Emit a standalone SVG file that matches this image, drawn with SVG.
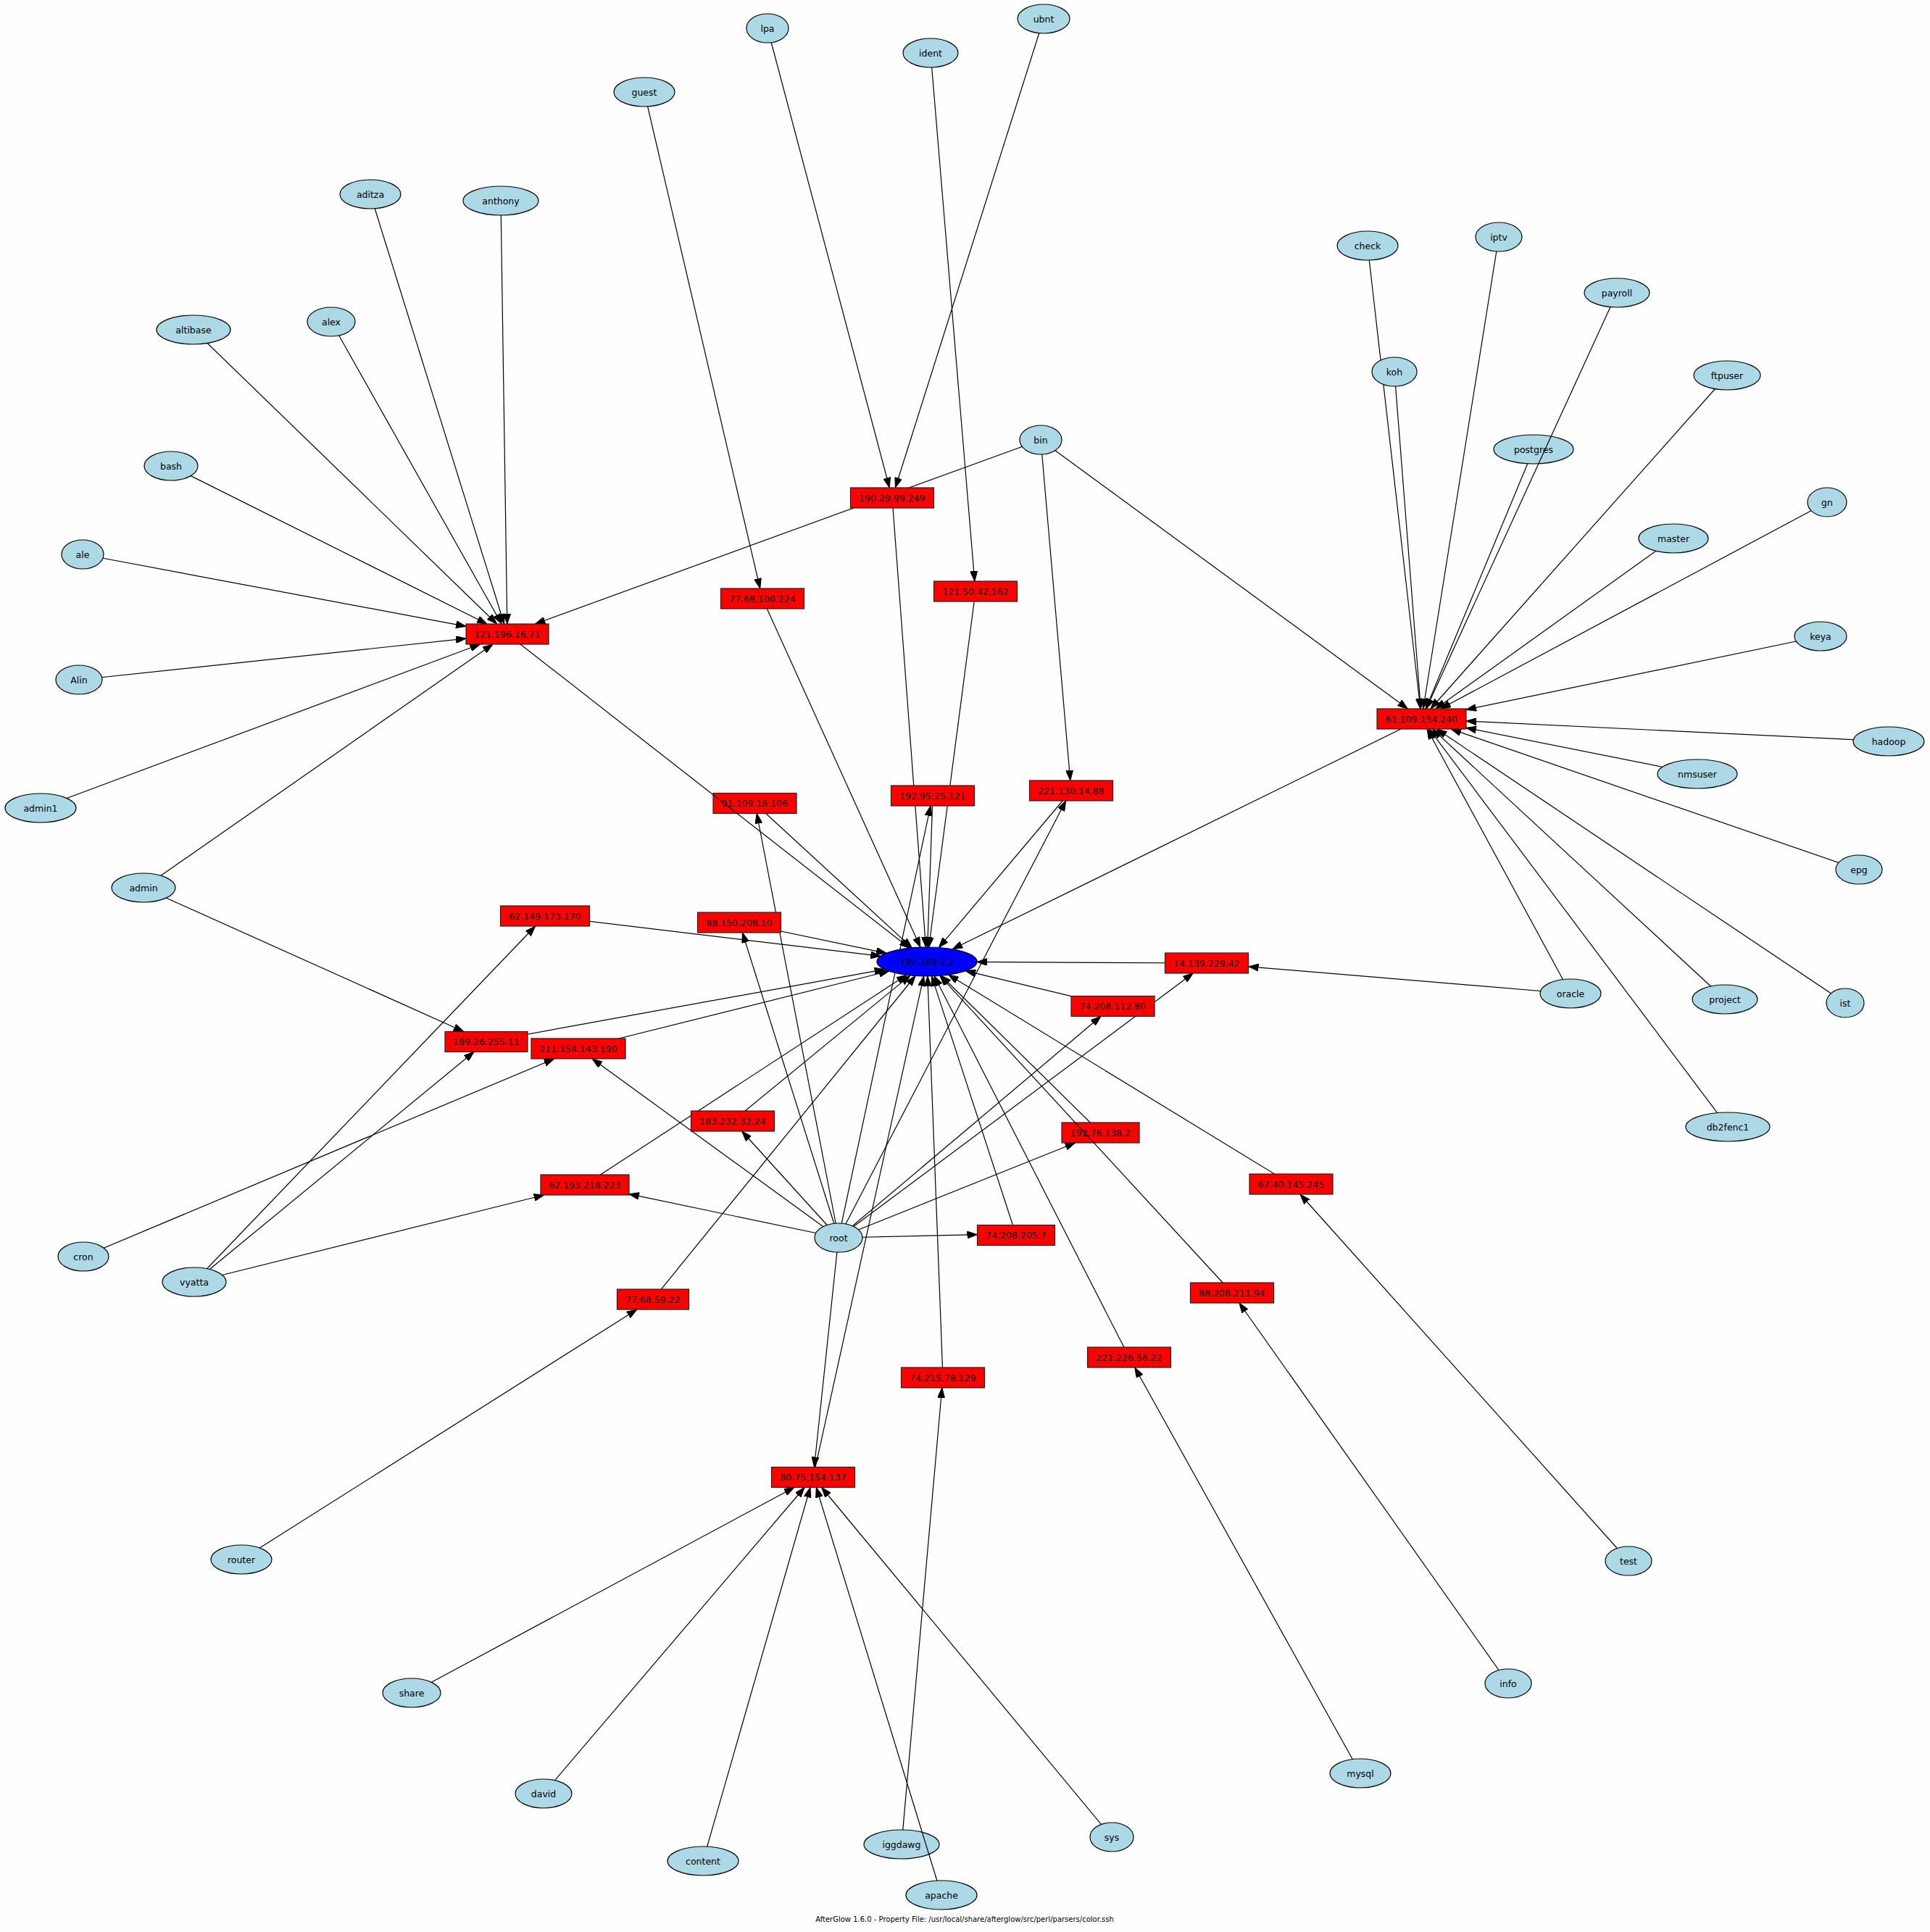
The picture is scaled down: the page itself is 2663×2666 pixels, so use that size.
<svg xmlns="http://www.w3.org/2000/svg" width="2663" height="2666" viewBox="0 0 2663 2666">
<style>
.e{stroke:#000;stroke-width:1.2;fill:none;marker-end:url(#arr)}
.u ellipse{fill:#add8e6;stroke:#000;stroke-width:1.2}
.ip rect{fill:#ff0000;stroke:#222;stroke-width:1.2}
.t ellipse{fill:#0000ff;stroke:#000;stroke-width:1.2}
text{font-family:"DejaVu Sans","Liberation Sans",sans-serif;font-size:12.5px;fill:#000;text-anchor:middle}
.foot{font-size:10px}
</style>
<defs>
<marker id="arr" markerUnits="userSpaceOnUse" markerWidth="14" markerHeight="10" refX="14" refY="5" orient="auto" viewBox="0 0 14 10">
<path d="M0,0 L14,5 L0,10 z" fill="#000" stroke="#000" stroke-width="1"/>
</marker>
</defs>
<rect x="0" y="0" width="2663" height="2666" fill="#fefefe"/>
<g id="edges">
<line class="e" x1="511" y1="268" x2="695.6" y2="861"/>
<line class="e" x1="691" y1="277" x2="699.8" y2="861"/>
<line class="e" x1="267" y1="455" x2="685.6" y2="861"/>
<line class="e" x1="457" y1="444" x2="692.1" y2="861"/>
<line class="e" x1="236" y1="643" x2="672" y2="861"/>
<line class="e" x1="114" y1="765" x2="643" y2="864.3"/>
<line class="e" x1="109" y1="938" x2="643" y2="881.1"/>
<line class="e" x1="56" y1="1115" x2="662.5" y2="889"/>
<line class="e" x1="198" y1="1225" x2="679.9" y2="889"/>
<line class="e" x1="1436" y1="607" x2="738.4" y2="861"/>
<line class="e" x1="1059" y1="39" x2="1227.3" y2="673"/>
<line class="e" x1="1440" y1="26" x2="1235.4" y2="673"/>
<line class="e" x1="1284" y1="73" x2="1344.8" y2="802"/>
<line class="e" x1="889" y1="127" x2="1048.7" y2="812"/>
<line class="e" x1="1887" y1="339" x2="1959.9" y2="978"/>
<line class="e" x1="1924" y1="513" x2="1960.4" y2="978"/>
<line class="e" x1="2068" y1="327" x2="1963.7" y2="978"/>
<line class="e" x1="2116" y1="620" x2="1967.3" y2="978"/>
<line class="e" x1="2383" y1="518" x2="1974" y2="978"/>
<line class="e" x1="2521" y1="693" x2="1987.7" y2="978"/>
<line class="e" x1="2309" y1="743" x2="1981" y2="978"/>
<line class="e" x1="2512" y1="878" x2="2023" y2="979.3"/>
<line class="e" x1="2606" y1="1023" x2="2023" y2="995"/>
<line class="e" x1="2342" y1="1068" x2="2023" y2="1004.3"/>
<line class="e" x1="2565" y1="1200" x2="2002.1" y2="1006"/>
<line class="e" x1="2167" y1="1371" x2="1969.1" y2="1006"/>
<line class="e" x1="2380" y1="1379" x2="1976.6" y2="1006"/>
<line class="e" x1="2546" y1="1384" x2="1982.4" y2="1006"/>
<line class="e" x1="2384" y1="1555" x2="1972" y2="1006"/>
<line class="e" x1="1436" y1="607" x2="1942.4" y2="978"/>
<line class="e" x1="1436" y1="607" x2="1476.8" y2="1077"/>
<line class="e" x1="2167" y1="1371" x2="1722.5" y2="1333.8"/>
<line class="e" x1="115" y1="1734" x2="764.7" y2="1461"/>
<line class="e" x1="268" y1="1769" x2="738.6" y2="1278"/>
<line class="e" x1="268" y1="1769" x2="654" y2="1451.5"/>
<line class="e" x1="268" y1="1769" x2="750.7" y2="1649"/>
<line class="e" x1="198" y1="1225" x2="639.8" y2="1423.5"/>
<line class="e" x1="333" y1="2152" x2="878.8" y2="1807"/>
<line class="e" x1="568" y1="2336" x2="1095.9" y2="2052.5"/>
<line class="e" x1="750" y1="2475" x2="1110.1" y2="2052.5"/>
<line class="e" x1="970" y1="2568" x2="1118" y2="2052.5"/>
<line class="e" x1="1534" y1="2535" x2="1133.6" y2="2052.5"/>
<line class="e" x1="1157" y1="1708" x2="1123.5" y2="2024.5"/>
<line class="e" x1="1244" y1="2545" x2="1299.8" y2="1915"/>
<line class="e" x1="1877" y1="2447" x2="1565.8" y2="1887"/>
<line class="e" x1="2081" y1="2323" x2="1709.9" y2="1798"/>
<line class="e" x1="2247" y1="2154" x2="1794" y2="1648"/>
<line class="e" x1="1157" y1="1708" x2="868" y2="1647.7"/>
<line class="e" x1="1157" y1="1708" x2="817.2" y2="1461"/>
<line class="e" x1="1157" y1="1708" x2="1023.7" y2="1561"/>
<line class="e" x1="1157" y1="1708" x2="1024.4" y2="1287"/>
<line class="e" x1="1157" y1="1708" x2="1044.2" y2="1122.5"/>
<line class="e" x1="1157" y1="1708" x2="1284" y2="1112"/>
<line class="e" x1="1157" y1="1708" x2="1470.7" y2="1105"/>
<line class="e" x1="1157" y1="1708" x2="1518.9" y2="1402.5"/>
<line class="e" x1="1157" y1="1708" x2="1646.2" y2="1343"/>
<line class="e" x1="1157" y1="1708" x2="1483.6" y2="1577"/>
<line class="e" x1="1157" y1="1708" x2="1348.5" y2="1703.7"/>
<line class="e" x1="1041.5" y1="1108.5" x2="1258.3" y2="1307.9"/>
<line class="e" x1="1052" y1="826" x2="1270" y2="1307.2"/>
<line class="e" x1="1231" y1="687" x2="1277.5" y2="1307"/>
<line class="e" x1="1287" y1="1098" x2="1279.7" y2="1307"/>
<line class="e" x1="1346" y1="816" x2="1281.6" y2="1307"/>
<line class="e" x1="1478" y1="1091" x2="1295.4" y2="1307.6"/>
<line class="e" x1="1961.5" y1="992" x2="1314.1" y2="1309.8"/>
<line class="e" x1="752" y1="1264" x2="1215.2" y2="1319.4"/>
<line class="e" x1="1020" y1="1273" x2="1223" y2="1315.3"/>
<line class="e" x1="1665" y1="1329" x2="1348" y2="1327.4"/>
<line class="e" x1="1535.5" y1="1388.5" x2="1332.2" y2="1339.7"/>
<line class="e" x1="671" y1="1437.5" x2="1220.6" y2="1337.6"/>
<line class="e" x1="798" y1="1447" x2="1226.7" y2="1340"/>
<line class="e" x1="1011" y1="1547" x2="1256" y2="1345.9"/>
<line class="e" x1="807" y1="1635" x2="1251" y2="1345.3"/>
<line class="e" x1="1518.5" y1="1563" x2="1298.5" y2="1346.2"/>
<line class="e" x1="1781.5" y1="1634" x2="1308.6" y2="1345.1"/>
<line class="e" x1="1402" y1="1704.5" x2="1285.5" y2="1346.9"/>
<line class="e" x1="1558" y1="1873" x2="1289.1" y2="1346.8"/>
<line class="e" x1="1301" y1="1901" x2="1279.8" y2="1347"/>
<line class="e" x1="901" y1="1793" x2="1263.2" y2="1346.5"/>
<line class="e" x1="1122" y1="2038.5" x2="1274.6" y2="1347"/>
</g>
<g id="n_lpa" class="u"><ellipse cx="1059" cy="39" rx="29" ry="20"/><text x="1059" y="43.5">lpa</text></g>
<g id="n_ubnt" class="u"><ellipse cx="1440" cy="26" rx="36" ry="20"/><text x="1440" y="30.5">ubnt</text></g>
<g id="n_ident" class="u"><ellipse cx="1284" cy="73" rx="38" ry="20"/><text x="1284" y="77.5">ident</text></g>
<g id="n_guest" class="u"><ellipse cx="889" cy="127" rx="42" ry="20"/><text x="889" y="131.5">guest</text></g>
<g id="n_aditza" class="u"><ellipse cx="511" cy="268" rx="42" ry="20"/><text x="511" y="272.5">aditza</text></g>
<g id="n_anthony" class="u"><ellipse cx="691" cy="277" rx="52" ry="20"/><text x="691" y="281.5">anthony</text></g>
<g id="n_altibase" class="u"><ellipse cx="267" cy="455" rx="51" ry="20"/><text x="267" y="459.5">altibase</text></g>
<g id="n_alex" class="u"><ellipse cx="457" cy="444" rx="33" ry="20"/><text x="457" y="448.5">alex</text></g>
<g id="n_bash" class="u"><ellipse cx="236" cy="643" rx="37" ry="20"/><text x="236" y="647.5">bash</text></g>
<g id="n_ale" class="u"><ellipse cx="114" cy="765" rx="29" ry="20"/><text x="114" y="769.5">ale</text></g>
<g id="n_Alin" class="u"><ellipse cx="109" cy="938" rx="32" ry="20"/><text x="109" y="942.5">Alin</text></g>
<g id="n_admin1" class="u"><ellipse cx="56" cy="1115" rx="49" ry="20"/><text x="56" y="1119.5">admin1</text></g>
<g id="n_admin" class="u"><ellipse cx="198" cy="1225" rx="44" ry="20"/><text x="198" y="1229.5">admin</text></g>
<g id="n_check" class="u"><ellipse cx="1887" cy="339" rx="42" ry="20"/><text x="1887" y="343.5">check</text></g>
<g id="n_iptv" class="u"><ellipse cx="2068" cy="327" rx="32" ry="20"/><text x="2068" y="331.5">iptv</text></g>
<g id="n_payroll" class="u"><ellipse cx="2231" cy="404" rx="45" ry="20"/><text x="2231" y="408.5">payroll</text></g>
<g id="n_koh" class="u"><ellipse cx="1924" cy="513" rx="31" ry="20"/><text x="1924" y="517.5">koh</text></g>
<g id="n_ftpuser" class="u"><ellipse cx="2383" cy="518" rx="46" ry="20"/><text x="2383" y="522.5">ftpuser</text></g>
<g id="n_bin" class="u"><ellipse cx="1436" cy="607" rx="29" ry="20"/><text x="1436" y="611.5">bin</text></g>
<g id="n_postgres" class="u"><ellipse cx="2116" cy="620" rx="55" ry="20"/><text x="2116" y="624.5">postgres</text></g>
<g id="n_gn" class="u"><ellipse cx="2521" cy="693" rx="27" ry="20"/><text x="2521" y="697.5">gn</text></g>
<g id="n_master" class="u"><ellipse cx="2309" cy="743" rx="48" ry="20"/><text x="2309" y="747.5">master</text></g>
<g id="n_keya" class="u"><ellipse cx="2512" cy="878" rx="36" ry="20"/><text x="2512" y="882.5">keya</text></g>
<g id="n_hadoop" class="u"><ellipse cx="2606" cy="1023" rx="49" ry="20"/><text x="2606" y="1027.5">hadoop</text></g>
<g id="n_nmsuser" class="u"><ellipse cx="2342" cy="1068" rx="55" ry="20"/><text x="2342" y="1072.5">nmsuser</text></g>
<g id="n_epg" class="u"><ellipse cx="2565" cy="1200" rx="32" ry="20"/><text x="2565" y="1204.5">epg</text></g>
<g id="n_oracle" class="u"><ellipse cx="2167" cy="1371" rx="42" ry="20"/><text x="2167" y="1375.5">oracle</text></g>
<g id="n_project" class="u"><ellipse cx="2380" cy="1379" rx="45" ry="20"/><text x="2380" y="1383.5">project</text></g>
<g id="n_ist" class="u"><ellipse cx="2546" cy="1384" rx="26" ry="20"/><text x="2546" y="1388.5">ist</text></g>
<g id="n_db2fenc1" class="u"><ellipse cx="2384" cy="1555" rx="58" ry="20"/><text x="2384" y="1559.5">db2fenc1</text></g>
<g id="n_cron" class="u"><ellipse cx="115" cy="1734" rx="35" ry="20"/><text x="115" y="1738.5">cron</text></g>
<g id="n_vyatta" class="u"><ellipse cx="268" cy="1769" rx="44" ry="20"/><text x="268" y="1773.5">vyatta</text></g>
<g id="n_root" class="u"><ellipse cx="1157" cy="1708" rx="33" ry="20"/><text x="1157" y="1712.5">root</text></g>
<g id="n_router" class="u"><ellipse cx="333" cy="2152" rx="42" ry="20"/><text x="333" y="2156.5">router</text></g>
<g id="n_share" class="u"><ellipse cx="568" cy="2336" rx="40" ry="20"/><text x="568" y="2340.5">share</text></g>
<g id="n_david" class="u"><ellipse cx="750" cy="2475" rx="39" ry="20"/><text x="750" y="2479.5">david</text></g>
<g id="n_content" class="u"><ellipse cx="970" cy="2568" rx="49" ry="20"/><text x="970" y="2572.5">content</text></g>
<g id="n_iggdawg" class="u"><ellipse cx="1244" cy="2545" rx="52" ry="20"/><text x="1244" y="2549.5">iggdawg</text></g>
<g id="n_apache" class="u"><ellipse cx="1299" cy="2615" rx="49" ry="20"/><text x="1299" y="2619.5">apache</text></g>
<g id="n_sys" class="u"><ellipse cx="1534" cy="2535" rx="30" ry="20"/><text x="1534" y="2539.5">sys</text></g>
<g id="n_mysql" class="u"><ellipse cx="1877" cy="2447" rx="42" ry="20"/><text x="1877" y="2451.5">mysql</text></g>
<g id="n_info" class="u"><ellipse cx="2081" cy="2323" rx="32" ry="20"/><text x="2081" y="2327.5">info</text></g>
<g id="n_test" class="u"><ellipse cx="2247" cy="2154" rx="32" ry="20"/><text x="2247" y="2158.5">test</text></g>
<g id="ip_190_29_99_249" class="ip"><rect x="1173.5" y="673" width="115" height="28"/><text x="1231" y="691.5">190.29.99.249</text></g>
<g id="ip_121_50_42_162" class="ip"><rect x="1288.5" y="802" width="115" height="28"/><text x="1346" y="820.5">121.50.42.162</text></g>
<g id="ip_77_68_106_224" class="ip"><rect x="994.5" y="812" width="115" height="28"/><text x="1052" y="830.5">77.68.106.224</text></g>
<g id="ip_121_196_16_71" class="ip"><rect x="643" y="861" width="114" height="28"/><text x="700" y="879.5">121.196.16.71</text></g>
<g id="ip_61_109_154_240" class="ip"><rect x="1900" y="978" width="123" height="28"/><text x="1961.5" y="996.5">61.109.154.240</text></g>
<g id="ip_91_109_16_106" class="ip"><rect x="984" y="1094.5" width="115" height="28"/><text x="1041.5" y="1113">91.109.16.106</text></g>
<g id="ip_192_95_25_121" class="ip"><rect x="1229.5" y="1084" width="115" height="28"/><text x="1287" y="1102.5">192.95.25.121</text></g>
<g id="ip_221_130_14_88" class="ip"><rect x="1420.5" y="1077" width="115" height="28"/><text x="1478" y="1095.5">221.130.14.88</text></g>
<g id="ip_62_149_173_170" class="ip"><rect x="690.5" y="1250" width="123" height="28"/><text x="752" y="1268.5">62.149.173.170</text></g>
<g id="ip_88_150_208_10" class="ip"><rect x="962.5" y="1259" width="115" height="28"/><text x="1020" y="1277.5">88.150.208.10</text></g>
<g id="ip_14_139_229_42" class="ip"><rect x="1607.5" y="1315" width="115" height="28"/><text x="1665" y="1333.5">14.139.229.42</text></g>
<g id="ip_74_208_112_80" class="ip"><rect x="1478" y="1374.5" width="115" height="28"/><text x="1535.5" y="1393">74.208.112.80</text></g>
<g id="ip_189_26_255_11" class="ip"><rect x="614" y="1423.5" width="114" height="28"/><text x="671" y="1442">189.26.255.11</text></g>
<g id="ip_211_154_143_190" class="ip"><rect x="733" y="1433" width="130" height="28"/><text x="798" y="1451.5">211.154.143.190</text></g>
<g id="ip_183_232_32_24" class="ip"><rect x="953.5" y="1533" width="115" height="28"/><text x="1011" y="1551.5">183.232.32.24</text></g>
<g id="ip_192_76_138_2" class="ip"><rect x="1465" y="1549" width="107" height="28"/><text x="1518.5" y="1567.5">192.76.138.2</text></g>
<g id="ip_62_193_218_223" class="ip"><rect x="746" y="1621" width="122" height="28"/><text x="807" y="1639.5">62.193.218.223</text></g>
<g id="ip_67_40_145_245" class="ip"><rect x="1724" y="1620" width="115" height="28"/><text x="1781.5" y="1638.5">67.40.145.245</text></g>
<g id="ip_74_208_205_7" class="ip"><rect x="1348.5" y="1690.5" width="107" height="28"/><text x="1402" y="1709">74.208.205.7</text></g>
<g id="ip_77_68_59_22" class="ip"><rect x="851.5" y="1779" width="99" height="28"/><text x="901" y="1797.5">77.68.59.22</text></g>
<g id="ip_88_208_211_94" class="ip"><rect x="1642.5" y="1770" width="115" height="28"/><text x="1700" y="1788.5">88.208.211.94</text></g>
<g id="ip_221_226_56_22" class="ip"><rect x="1500.5" y="1859" width="115" height="28"/><text x="1558" y="1877.5">221.226.56.22</text></g>
<g id="ip_74_215_78_129" class="ip"><rect x="1243.5" y="1887" width="115" height="28"/><text x="1301" y="1905.5">74.215.78.129</text></g>
<g id="ip_80_75_154_137" class="ip"><rect x="1064.5" y="2024.5" width="115" height="28"/><text x="1122" y="2043">80.75.154.137</text></g>
<g id="t_192_168_2_2" class="t"><ellipse cx="1279" cy="1327" rx="69" ry="20"/><text x="1279" y="1331.5">192.168.2.2</text></g>
<g id="edges-over">
<line class="e" x1="718" y1="889" x2="1255" y2="1308.3"/>
<line class="e" x1="2222" y1="423.6" x2="1967.9" y2="978"/>
<line class="e" x1="1687.1" y1="1770" x2="1296.8" y2="1346.3"/>
<line class="e" x1="1292.9" y1="2595.2" x2="1126.3" y2="2052.5"/>
</g>
<text class="foot" x="1331" y="2652">AfterGlow 1.6.0 - Property File: /usr/local/share/afterglow/src/perl/parsers/color.ssh</text>
</svg>
